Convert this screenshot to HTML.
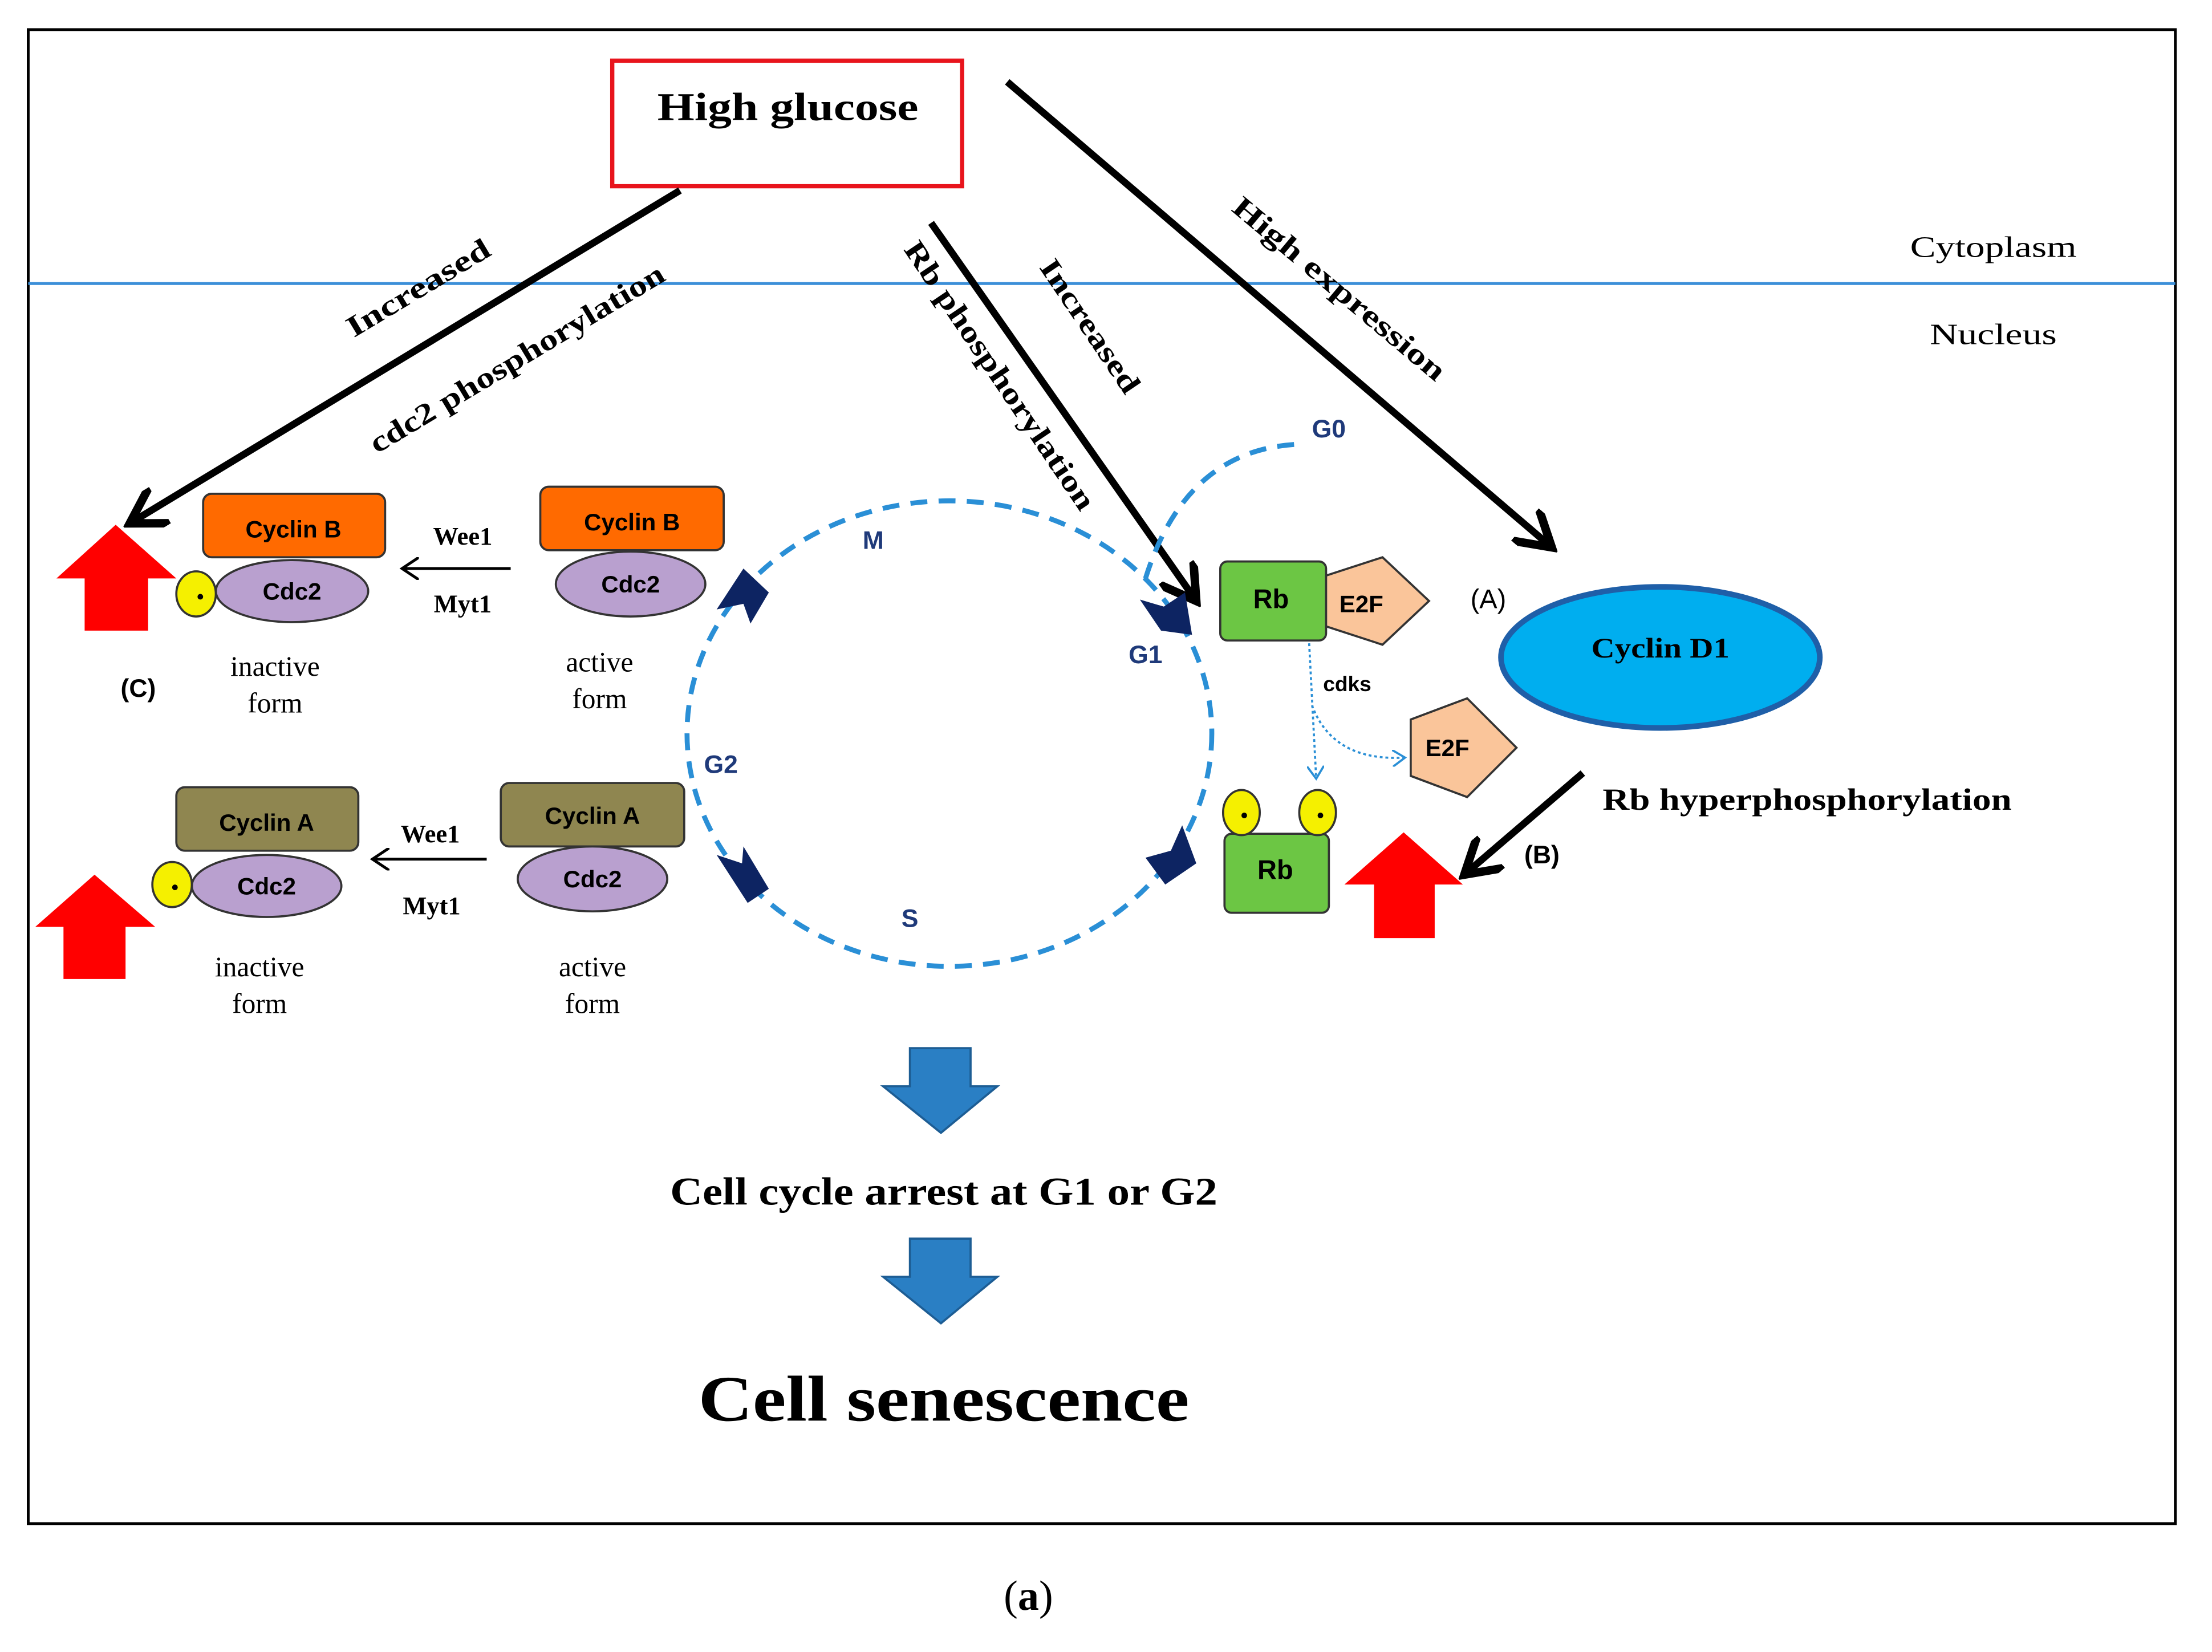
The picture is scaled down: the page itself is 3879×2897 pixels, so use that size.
<!DOCTYPE html>
<html><head><meta charset="utf-8"><style>html,body{margin:0;padding:0;background:#fff}svg{display:block}</style></head>
<body>
<svg width="3879" height="2897" viewBox="0 0 1568 1171" preserveAspectRatio="none" xmlns="http://www.w3.org/2000/svg">
<defs>
<marker id="ah" markerWidth="6" markerHeight="6" refX="5" refY="3" orient="auto" markerUnits="strokeWidth"><path d="M0,0 L5,3 L0,6" fill="none" stroke="#000" stroke-width="1.2"/></marker>
<marker id="sa" markerWidth="8" markerHeight="8" refX="6" refY="4" orient="auto" markerUnits="strokeWidth"><path d="M0,0 L6,4 L0,8" fill="none" stroke="#000" stroke-width="1"/></marker>
<marker id="ba" markerWidth="8" markerHeight="8" refX="6" refY="4" orient="auto" markerUnits="strokeWidth"><path d="M0,0 L6,4 L0,8" fill="none" stroke="#2a8fd6" stroke-width="1"/></marker>
</defs>
<rect x="0" y="0" width="1568" height="1171" fill="#fff"/>
<rect x="20" y="21" width="1522" height="1059" fill="none" stroke="#000" stroke-width="2"/>
<line x1="20" y1="201" x2="1542" y2="201" stroke="#3b8fd8" stroke-width="2"/>
<g font-family="Liberation Serif, serif">
<rect x="434" y="43" width="248" height="89" fill="#fff" stroke="#e8141c" stroke-width="3"/>
<text x="466" y="85" font-size="28" font-weight="bold" textLength="185" lengthAdjust="spacingAndGlyphs">High glucose</text>
<text x="1354" y="182" font-size="21" textLength="118" lengthAdjust="spacingAndGlyphs">Cytoplasm</text>
<text x="1368" y="244" font-size="21" textLength="90" lengthAdjust="spacingAndGlyphs">Nucleus</text>
</g>
<g stroke="#000" stroke-width="5" fill="none" marker-end="url(#ah)">
<line x1="482" y1="135" x2="92" y2="371"/>
<line x1="660" y1="158" x2="848" y2="426"/>
<line x1="714" y1="58" x2="1100" y2="388"/>
<line x1="1122" y1="548" x2="1038" y2="620"/>
</g>
<g font-family="Liberation Serif, serif" font-size="21" font-weight="bold">
<text transform="translate(300,210) rotate(-31)" text-anchor="middle" textLength="115" lengthAdjust="spacingAndGlyphs">Increased</text>
<text transform="translate(370,260) rotate(-31)" text-anchor="middle" textLength="240" lengthAdjust="spacingAndGlyphs">cdc2 phosphorylation</text>
<text transform="translate(703,270) rotate(56)" text-anchor="middle" textLength="225" lengthAdjust="spacingAndGlyphs">Rb phosphorylation</text>
<text transform="translate(767,235) rotate(56)" text-anchor="middle" textLength="110" lengthAdjust="spacingAndGlyphs">Increased</text>
<text transform="translate(945,210) rotate(40)" text-anchor="middle" textLength="190" lengthAdjust="spacingAndGlyphs">High expression</text>
<text x="1136" y="574" font-size="22" textLength="290" lengthAdjust="spacingAndGlyphs">Rb hyperphosphorylation</text>
</g>
<ellipse cx="673" cy="520" rx="186" ry="165" fill="none" stroke="#2a8fd6" stroke-width="3.5" stroke-dasharray="12,8"/>
<path d="M812,410 Q840,320 918,315" fill="none" stroke="#2a8fd6" stroke-width="3.5" stroke-dasharray="12,8"/>
<g fill="#0d2462">
<path d="M508,432 L527,403 L545,420 L532,442 L527,428 Z"/>
<path d="M808,425 L825,430 L840,420 L845,450 L823,447 Z"/>
<path d="M812,608 L830,603 L838,585 L848,612 L826,627 Z"/>
<path d="M508,606 L526,612 L527,600 L545,630 L530,640 Z"/>
</g>
<g font-family="Liberation Sans, sans-serif" font-size="18" font-weight="bold" fill="#1f3a7a">
<text x="619" y="389" text-anchor="middle">M</text>
<text x="812" y="470" text-anchor="middle">G1</text>
<text x="511" y="548" text-anchor="middle">G2</text>
<text x="645" y="657" text-anchor="middle">S</text>
<text x="942" y="310" text-anchor="middle">G0</text>
</g>
<g stroke="#333" stroke-width="1.5">
<rect x="144" y="350" width="129" height="45" rx="6" fill="#ff6a00"/>
<ellipse cx="207" cy="419" rx="54" ry="22" fill="#b9a0cf"/>
<rect x="383" y="345" width="130" height="45" rx="6" fill="#ff6a00"/>
<ellipse cx="447" cy="414" rx="53" ry="23" fill="#b9a0cf"/>
<rect x="125" y="558" width="129" height="45" rx="6" fill="#8f8650"/>
<ellipse cx="189" cy="628" rx="53" ry="22" fill="#b9a0cf"/>
<rect x="355" y="555" width="130" height="45" rx="6" fill="#8f8650"/>
<ellipse cx="420" cy="623" rx="53" ry="23" fill="#b9a0cf"/>
<ellipse cx="139" cy="421" rx="14" ry="16" fill="#f5f000"/>
<ellipse cx="122" cy="627" rx="14" ry="16" fill="#f5f000"/>
<rect x="865" y="398" width="75" height="56" rx="5" fill="#6cc644"/>
<path d="M940,408 L980,395 L1013,426 L980,457 L940,444 Z" fill="#fac59a"/>
<path d="M1000,510 L1040,495 L1075,530 L1040,565 L1000,550 Z" fill="#fac59a"/>
<rect x="868" y="591" width="74" height="56" rx="5" fill="#6cc644"/>
<ellipse cx="880" cy="576" rx="13" ry="16" fill="#f5f000"/>
<ellipse cx="934" cy="576" rx="13" ry="16" fill="#f5f000"/>
<ellipse cx="1177" cy="466" rx="113" ry="50" fill="#00aeef" stroke="#1f5fa8" stroke-width="4"/>
</g>
<g fill="#000" font-family="Liberation Sans, sans-serif" font-weight="bold" font-size="17" text-anchor="middle">
<circle cx="142" cy="423" r="2"/><circle cx="124" cy="629" r="2"/><circle cx="882" cy="578" r="2"/><circle cx="936" cy="578" r="2"/>
<text x="208" y="381">Cyclin B</text><text x="207" y="425">Cdc2</text>
<text x="448" y="376">Cyclin B</text><text x="447" y="420">Cdc2</text>
<text x="189" y="589">Cyclin A</text><text x="189" y="634">Cdc2</text>
<text x="420" y="584">Cyclin A</text><text x="420" y="629">Cdc2</text>
<text x="901" y="431" font-size="19">Rb</text>
<text x="965" y="434">E2F</text>
<text x="1026" y="536">E2F</text>
<text x="904" y="623" font-size="19">Rb</text>
<text x="955" y="490" font-size="15">cdks</text>
<text x="1177" y="466" font-family="Liberation Serif, serif" font-size="20" textLength="98" lengthAdjust="spacingAndGlyphs">Cyclin D1</text>
</g>
<path d="M928,456 L933,552" fill="none" stroke="#2a8fd6" stroke-width="1.5" stroke-dasharray="2,2" marker-end="url(#ba)"/>
<path d="M930,500 Q945,540 996,537" fill="none" stroke="#2a8fd6" stroke-width="1.5" stroke-dasharray="2,2" marker-end="url(#ba)"/>
<g font-family="Liberation Serif, serif" font-size="18" font-weight="bold" text-anchor="middle">
<text x="328" y="386">Wee1</text><text x="328" y="434">Myt1</text>
<text x="305" y="597">Wee1</text><text x="306" y="648">Myt1</text>
<text x="98" y="494" font-family="Liberation Sans, sans-serif">(C)</text>
<text x="1055" y="431" font-family="Liberation Sans, sans-serif" font-weight="normal" font-size="19">(A)</text>
<text x="1093" y="612" font-family="Liberation Sans, sans-serif" font-size="18">(B)</text>
</g>
<g stroke="#000" stroke-width="2" marker-end="url(#sa)">
<line x1="362" y1="403" x2="285" y2="403"/>
<line x1="345" y1="609" x2="264" y2="609"/>
</g>
<g font-family="Liberation Serif, serif" font-size="20" text-anchor="middle">
<text x="195" y="479">inactive</text><text x="195" y="505">form</text>
<text x="425" y="476">active</text><text x="425" y="502">form</text>
<text x="184" y="692">inactive</text><text x="184" y="718">form</text>
<text x="420" y="692">active</text><text x="420" y="718">form</text>
</g>
<g fill="#ff0000">
<path d="M82,372 L125,410 L105,410 L105,447 L60,447 L60,410 L40,410 Z"/>
<path d="M67,620 L110,657 L89,657 L89,694 L45,694 L45,657 L25,657 Z"/>
<path d="M995,590 L1037,627 L1017,627 L1017,665 L974,665 L974,627 L953,627 Z"/>
</g>
<g fill="#2a7fc4" stroke="#1d5d94" stroke-width="1.5">
<path d="M645,743 L688,743 L688,770 L707,770 L667,803 L626,770 L645,770 Z"/>
<path d="M645,878 L688,878 L688,905 L707,905 L667,938 L626,905 L645,905 Z"/>
</g>
<g font-family="Liberation Serif, serif" font-weight="bold">
<text x="475" y="854" font-size="28" textLength="388" lengthAdjust="spacingAndGlyphs">Cell cycle arrest at G1 or G2</text>
<text x="495" y="1007" font-size="46" textLength="348" lengthAdjust="spacingAndGlyphs">Cell senescence</text>
</g>
<text x="729" y="1141" font-family="Liberation Serif, serif" font-size="30" text-anchor="middle">(<tspan font-weight="bold">a</tspan>)</text>
</svg>
</body></html>
